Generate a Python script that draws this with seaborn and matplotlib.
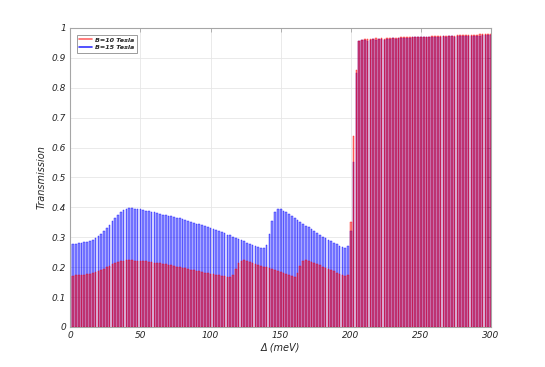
import numpy as np
import pandas as pd
import matplotlib
matplotlib.use("Agg")
import matplotlib.pyplot as plt
import seaborn as sns
from matplotlib.lines import Line2D
from matplotlib.ticker import FuncFormatter

# energy grid (meV), one bar every 2 meV
delta = list(range(0, 301, 2))

# B = 10 Tesla (red)
t_b10 = [
    0.172, 0.172, 0.173, 0.173, 0.174, 0.175, 0.177, 0.178, 0.180, 0.183,   # 0-18
    0.187, 0.191, 0.195, 0.199, 0.204, 0.209, 0.213, 0.217, 0.220, 0.222,   # 20-38
    0.223, 0.223, 0.223, 0.222, 0.222, 0.221, 0.220, 0.219, 0.218, 0.217,   # 40-58
    0.215, 0.214, 0.213, 0.211, 0.209, 0.208, 0.206, 0.204, 0.202, 0.200,   # 60-78
    0.198, 0.196, 0.194, 0.192, 0.190, 0.188, 0.186, 0.184, 0.182, 0.180,   # 80-98
    0.178, 0.176, 0.175, 0.173, 0.171, 0.169, 0.167, 0.166, 0.175, 0.195,   # 100-118
    0.213, 0.222, 0.223, 0.220, 0.217, 0.214, 0.211, 0.208, 0.205, 0.202,   # 120-138
    0.199, 0.196, 0.193, 0.190, 0.187, 0.184, 0.181, 0.178, 0.175, 0.172,   # 140-158
    0.168, 0.180, 0.205, 0.220, 0.224, 0.222, 0.218, 0.214, 0.210, 0.206,   # 160-178
    0.202, 0.198, 0.194, 0.190, 0.186, 0.182, 0.178, 0.175, 0.172, 0.175,   # 180-198
    0.350, 0.640, 0.860, 0.957, 0.960, 0.962, 0.963, 0.962, 0.964, 0.965,   # 200-218
    0.964, 0.966, 0.962, 0.965, 0.966, 0.967, 0.967, 0.966, 0.968, 0.968,   # 220-238
    0.969, 0.968, 0.969, 0.970, 0.970, 0.971, 0.970, 0.971, 0.971, 0.972,   # 240-258
    0.972, 0.973, 0.972, 0.973, 0.974, 0.974, 0.973, 0.974, 0.975, 0.975,   # 260-278
    0.975, 0.976, 0.976, 0.976, 0.977, 0.977, 0.978, 0.978, 0.978, 0.979,   # 280-298
    0.979,                                                                  # 300
]

# B = 15 Tesla (blue)
t_b15 = [
    0.278, 0.278, 0.279, 0.280, 0.281, 0.283, 0.285, 0.288, 0.292, 0.297,   # 0-18
    0.304, 0.312, 0.321, 0.331, 0.342, 0.353, 0.364, 0.375, 0.384, 0.391,   # 20-38
    0.395, 0.397, 0.397, 0.396, 0.395, 0.393, 0.391, 0.389, 0.387, 0.385,   # 40-58
    0.383, 0.380, 0.378, 0.376, 0.374, 0.372, 0.370, 0.368, 0.366, 0.363,   # 60-78
    0.360, 0.358, 0.355, 0.352, 0.349, 0.346, 0.343, 0.340, 0.337, 0.334,   # 80-98
    0.331, 0.327, 0.324, 0.320, 0.317, 0.313, 0.309, 0.306, 0.302, 0.298,   # 100-118
    0.294, 0.290, 0.286, 0.282, 0.278, 0.274, 0.270, 0.267, 0.264, 0.263,   # 120-138
    0.275, 0.310, 0.355, 0.385, 0.396, 0.394, 0.389, 0.383, 0.377, 0.370,   # 140-158
    0.364, 0.357, 0.351, 0.345, 0.339, 0.333, 0.326, 0.320, 0.314, 0.308,   # 160-178
    0.302, 0.297, 0.291, 0.286, 0.281, 0.276, 0.272, 0.268, 0.265, 0.270,   # 180-198
    0.320, 0.550, 0.850, 0.955, 0.958, 0.960, 0.957, 0.961, 0.962, 0.960,   # 200-218
    0.963, 0.964, 0.958, 0.962, 0.964, 0.965, 0.963, 0.966, 0.966, 0.967,   # 220-238
    0.967, 0.966, 0.968, 0.968, 0.969, 0.968, 0.969, 0.968, 0.969, 0.970,   # 240-258
    0.970, 0.971, 0.971, 0.972, 0.971, 0.972, 0.972, 0.971, 0.972, 0.972,   # 260-278
    0.973, 0.972, 0.973, 0.973, 0.974, 0.974, 0.974, 0.975, 0.975, 0.975,   # 280-298
    0.976,                                                                  # 300
]

df = pd.DataFrame({'delta': delta, 'B10': t_b10, 'B15': t_b15})

sns.set_style('white')
plt.rcParams['font.family'] = ['DejaVu Sans']

fig = plt.figure(figsize=(5.45, 3.67), dpi=100)
ax = fig.add_axes([0.129, 0.109, 0.772, 0.815])

# blue first, red over it; translucent faces with thin solid edges
series = [('B15', (0.0, 0.0, 1.0)), ('B10', (1.0, 0.0, 0.0))]
for col, rgb in series:
    n_before = len(ax.patches)
    sns.barplot(data=df, x='delta', y=col, native_scale=True, width=0.6,
                color=rgb, saturation=1, errorbar=None, ax=ax)
    for p in ax.patches[n_before:]:
        p.set_alpha(None)
        p.set_facecolor((*rgb, 0.45))
        p.set_edgecolor((*rgb, 0.9))
        p.set_linewidth(0.3)

ax.set_xlim(0, 300)
ax.set_ylim(0, 1)
ax.set_xticks(np.arange(0, 301, 50))
ax.set_yticks(np.arange(0, 1.01, 0.1))
ax.yaxis.set_major_formatter(FuncFormatter(lambda v, p: f'{v:.1f}'.rstrip('0').rstrip('.') if v else '0'))

ax.grid(True, color='#e6e6e6', linewidth=0.6)
ax.set_axisbelow(True)
for s in ax.spines.values():
    s.set_color('#a6a6a6')
    s.set_linewidth(0.8)
    s.set_visible(True)
ax.tick_params(direction='in', length=3, width=0.6, color='#a6a6a6',
               top=True, right=True, labelsize=6.5, labelcolor='#262626', pad=3)
for lab in ax.get_xticklabels() + ax.get_yticklabels():
    lab.set_fontstyle('italic')

ax.set_xlabel('Δ (meV)', fontsize=7, fontstyle='italic', color='#262626', labelpad=2)
ax.set_ylabel('Transmission', fontsize=7, fontstyle='italic', color='#262626', labelpad=4)

handles = [Line2D([0], [0], color='#ff6666', lw=1.2),
           Line2D([0], [0], color='#3333ff', lw=1.2)]
leg = ax.legend(handles, ['B=10 Tesla', 'B=15 Tesla'], loc='upper left',
                prop={'size': 4.6, 'style': 'italic', 'weight': 'bold'},
                handlelength=2.0, handletextpad=0.5, borderpad=0.4,
                labelspacing=0.3, fancybox=False, framealpha=1,
                edgecolor='#8c8c8c', bbox_to_anchor=(0.008, 0.988))
leg.get_frame().set_linewidth(0.6)

fig.savefig('out.png', dpi=100)
